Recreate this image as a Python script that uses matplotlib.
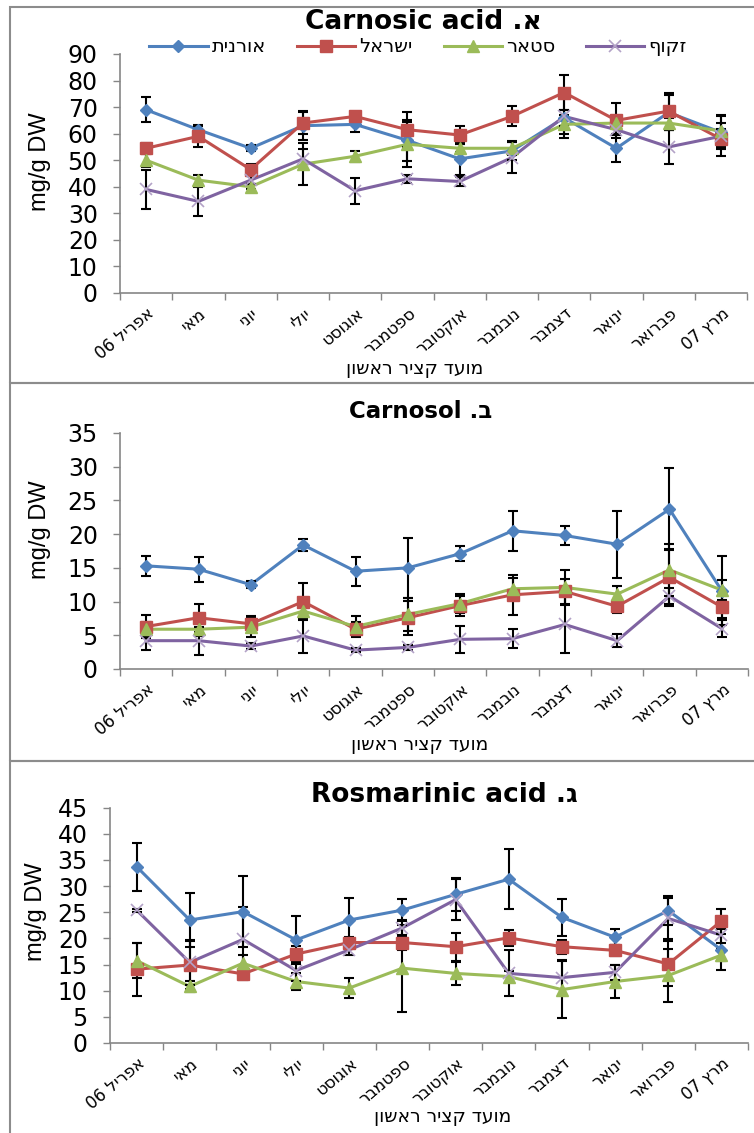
import numpy as np
import matplotlib
matplotlib.use('Agg')
import matplotlib.pyplot as plt
from matplotlib.patches import Rectangle
from matplotlib.lines import Line2D

plt.rcParams['font.family'] = ['DejaVu Sans']

W, H = 754, 1133

months = ['אפריל 06', 'מאי', 'יוני', 'יולי', 'אוגוסט', 'ספטמבר',
          'אוקטובר', 'נובמבר', 'דצמבר', 'ינואר', 'פברואר', 'מרץ 07']
lines_names = ['אורנית', 'ישראל', 'סטאר', 'זקוף']
xlabel = 'מועד קציר ראשון'
ylabel = 'mg/g DW'
compounds = ['Carnosic acid', 'Carnosol', 'Rosmarinic acid']
letters = ['א', 'ב', 'ג']

# Carnosic acid
ca_ornit = [69, 61.5, 54.5, 63, 63.5, 57.5, 50.5, 53.5, 66, 54.5, 68, 60.5]
ca_ornit_err = [4.7, 1.6, 1.2, 5.5, 3, 7.7, 5.9, 3.5, 3, 5, 6.5, 3.5]
ca_israel = [54.5, 59, 46.5, 64, 66.5, 61.5, 59.5, 66.5, 75.5, 65, 68.5, 58]
ca_israel_err = [1.9, 4, 2.1, 4.2, 1.8, 6.6, 3.4, 3.75, 6.6, 6.5, 7, 3.9]
ca_star = [50, 42.5, 40, 48.5, 51.5, 56, 54.5, 54.5, 63.5, 64, 64, 61]
ca_star_err = [2.5, 1.9, 1, 8, 2.1, 8.4, 1.5, 2.6, 3.5, 2, 2, 6]
ca_zakuf = [39, 34.5, 42.5, 50.5, 38.5, 43, 42, 51, 66.5, 61.5, 55, 59]
ca_zakuf_err = [7.3, 5.4, 1.5, 3.7, 4.9, 1.4, 1.6, 5.9, 8, 1.5, 6.5, 7.5]

# Carnosol
cs_ornit = [15.3, 14.8, 12.5, 18.4, 14.5, 15.0, 17.1, 20.5, 19.8, 18.5, 23.7, 11.6]
cs_ornit_err = [1.5, 1.85, 0.5, 0.85, 2.15, 4.45, 1.1, 2.95, 1.35, 5.0, 6.1, 5.1]
cs_israel = [6.3, 7.6, 6.7, 10.0, 5.9, 7.6, 9.4, 11.0, 11.5, 9.3, 13.6, 9.2]
cs_israel_err = [1.7, 2.1, 1.1, 2.8, 1.0, 2.5, 1.5, 3.0, 1.8, 1.0, 4.2, 1.7]
cs_star = [5.9, 5.9, 6.2, 8.6, 6.3, 8.1, 9.7, 11.9, 12.1, 11.1, 14.7, 11.7]
cs_star_err = [1.0, 1.0, 1.4, 1.2, 1.5, 2.5, 1.4, 1.6, 2.6, 1.2, 3.9, 1.5]
cs_zakuf = [4.2, 4.2, 3.4, 4.9, 2.8, 3.2, 4.4, 4.5, 6.6, 4.2, 10.8, 6.0]
cs_zakuf_err = [1.4, 2.1, 0.5, 2.5, 0.3, 0.4, 2.05, 1.4, 4.3, 1.0, 1.2, 1.3]

# Rosmarinic acid
ra_ornit = [33.7, 23.5, 25.1, 19.7, 23.5, 25.4, 28.4, 31.3, 24.0, 20.2, 25.3, 17.8]
ra_ornit_err = [4.6, 5.1, 6.8, 4.6, 4.25, 2.1, 3.2, 5.7, 3.5, 1.5, 2.8, 3.9]
ra_israel = [14.1, 14.9, 13.2, 17.0, 19.2, 19.2, 18.4, 20.1, 18.4, 17.7, 15.1, 23.3]
ra_israel_err = [5.1, 4.5, 1.2, 1.5, 1.0, 1.5, 2.7, 1.5, 1.3, 1.0, 4.3, 2.4]
ra_star = [15.75, 10.8, 15.25, 11.75, 10.5, 14.3, 13.3, 12.7, 10.2, 11.75, 12.9, 16.8]
ra_star_err = [3.4, 1.0, 1.6, 1.7, 1.9, 8.3, 2.2, 1.0, 5.5, 3.2, 5.1, 1.1]
ra_zakuf = [25.4, 15.4, 19.8, 13.85, 17.8, 22.0, 27.4, 13.3, 12.5, 13.5, 23.8, 20.6]
ra_zakuf_err = [0.3, 4.3, 6.2, 2.0, 1.0, 1.5, 3.9, 4.4, 3.3, 1.5, 4.0, 1.5]

colors = ['#4F81BD', '#C0504D', '#9BBB59', '#7F63A1']
markers = ['D', 's', '^', 'x']
msizes = [6.5, 8.5, 8.5, 8]


def vis(s):
    # matplotlib has no bidi support: lay hebrew words out right to left
    toks = s.split(' ')
    out = []
    for t in reversed(toks):
        if any('\u0590' <= c <= '\u05ff' for c in t):
            out.append(t[::-1])
        else:
            out.append(t)
    return ' '.join(out)


def fx(x):
    return x / W


def fy(y):
    return 1 - y / H


def panel_axes(fig, x0, x1, ytop, ybot):
    return fig.add_axes([fx(x0), fy(ybot), fx(x1 - x0), (ybot - ytop) / H])


def plot_panel(ax, series, errs, ymax, ystep):
    x = np.arange(len(months))
    for i in range(4):
        ax.plot(x, series[i], color=colors[i], lw=2.2, zorder=2)
        ax.errorbar(x, series[i], yerr=errs[i], fmt='none', ecolor='black',
                    elinewidth=1.5, capsize=3.5, capthick=1.5, zorder=3)
        if markers[i] == 'x':
            ax.plot(x, series[i], ls='none', marker='x', ms=msizes[i],
                    mec='#B3A2C7', mew=1.2, zorder=4)
        else:
            ax.plot(x, series[i], ls='none', marker=markers[i], ms=msizes[i],
                    mfc=colors[i], mec=colors[i], zorder=4)
    ax.set_xlim(-0.5, len(months) - 0.5)
    ax.set_ylim(0, ymax)
    ax.set_yticks(np.arange(0, ymax + 0.1, ystep))
    # category boundaries get the tick marks, month names sit between them
    ax.set_xticks(np.arange(-0.5, len(months), 1.0))
    ax.set_xticklabels([])
    ax.set_xticks(x, minor=True)
    ax.set_xticklabels([vis(m) for m in months], minor=True, rotation=40,
                       ha='right', va='top', rotation_mode='anchor', fontsize=12)
    ax.tick_params(axis='x', which='minor', length=0, pad=8)
    ax.tick_params(axis='both', which='major', length=5, color='#868686',
                   width=1, labelsize=17)
    ax.tick_params(axis='y', pad=11)
    for s in ['top', 'right']:
        ax.spines[s].set_visible(False)
    for s in ['left', 'bottom']:
        ax.spines[s].set_color('#868686')
        ax.spines[s].set_linewidth(1.2)


fig = plt.figure(figsize=(W / 100, H / 100), dpi=100)

# panel frames
for top, bot in [(7, 383), (383, 761), (761, 1150)]:
    fig.patches.append(Rectangle((fx(10), fy(bot)), fx(760 - 10), (bot - top) / H,
                                 transform=fig.transFigure, fill=False,
                                 edgecolor='#8C8C8C', lw=1.5))

ax1 = panel_axes(fig, 120, 747, 54, 293)
plot_panel(ax1, [ca_ornit, ca_israel, ca_star, ca_zakuf],
           [ca_ornit_err, ca_israel_err, ca_star_err, ca_zakuf_err], 90, 10)
ax2 = panel_axes(fig, 120, 748, 433, 669)
plot_panel(ax2, [cs_ornit, cs_israel, cs_star, cs_zakuf],
           [cs_ornit_err, cs_israel_err, cs_star_err, cs_zakuf_err], 35, 5)
ax3 = panel_axes(fig, 110, 748, 807.5, 1043)
plot_panel(ax3, [ra_ornit, ra_israel, ra_star, ra_zakuf],
           [ra_ornit_err, ra_israel_err, ra_star_err, ra_zakuf_err], 45, 5)

title_pos = [(423, 22), (421, 412), (444, 795)]
title_size = [19, 16.5, 19]
xlab_pos = [(415, 368), (420, 745), (443, 1117)]
ylab_pos = [(40, 162), (40, 530), (36, 912)]
for i in range(3):
    fig.text(fx(title_pos[i][0]), fy(title_pos[i][1]),
             compounds[i] + ' .' + letters[i], ha='center', va='center',
             fontsize=title_size[i], fontweight='bold')
    fig.text(fx(xlab_pos[i][0]), fy(xlab_pos[i][1]), vis(xlabel),
             ha='center', va='center', fontsize=13.5)
    fig.text(fx(ylab_pos[i][0]), fy(ylab_pos[i][1]), ylabel, rotation=90,
             ha='center', va='center', fontsize=17,
             family=['Liberation Sans', 'DejaVu Sans'])

handles = []
for i in range(4):
    if markers[i] == 'x':
        h = Line2D([], [], color=colors[i], lw=2.2, marker='x', ms=msizes[i],
                   mec='#B3A2C7', mew=1.2)
    else:
        h = Line2D([], [], color=colors[i], lw=2.2, marker=markers[i],
                   ms=msizes[i], mfc=colors[i], mec=colors[i])
    handles.append(h)
fig.legend(handles, [vis(n) for n in lines_names], ncol=4, loc='center',
           bbox_to_anchor=(fx(418), fy(47)), frameon=False, fontsize=14,
           handlelength=3.0, handletextpad=0.2, columnspacing=1.6)

plt.savefig('out.png', dpi=100)
